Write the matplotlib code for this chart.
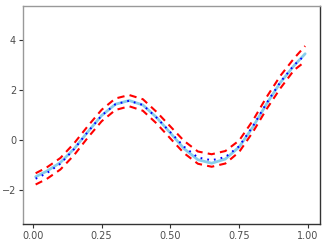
import numpy as np
import matplotlib
matplotlib.use("Agg")
import matplotlib.pyplot as plt

# values
x_vals = [0.01, 0.05, 0.10, 0.15, 0.20, 0.25, 0.30, 0.35, 0.40, 0.45, 0.50,
          0.55, 0.60, 0.65, 0.70, 0.75, 0.80, 0.85, 0.90, 0.95, 0.99]
truth = [-1.47, -1.25, -0.90, -0.35, 0.33, 0.98, 1.43, 1.58, 1.40, 0.90, 0.28,
         -0.35, -0.79, -0.93, -0.76, -0.28, 0.52, 1.45, 2.30, 2.98, 3.45]
estimate = [-1.55, -1.33, -0.95, -0.36, 0.33, 0.98, 1.43, 1.57, 1.40, 0.89, 0.31,
            -0.27, -0.70, -0.81, -0.68, -0.25, 0.55, 1.48, 2.32, 3.00, 3.40]
upper = [-1.33, -1.10, -0.72, -0.13, 0.56, 1.21, 1.66, 1.80, 1.63, 1.12, 0.54,
         -0.04, -0.46, -0.57, -0.44, -0.02, 0.78, 1.72, 2.57, 3.27, 3.76]
lower = [-1.78, -1.56, -1.18, -0.60, 0.10, 0.75, 1.20, 1.35, 1.17, 0.66, 0.06,
         -0.53, -0.95, -1.07, -0.94, -0.48, 0.32, 1.24, 2.07, 2.80, 3.14]
x_ticks = [0.0, 0.25, 0.5, 0.75, 1.0]
x_labels = ["0.00", "0.25", "0.50", "0.75", "1.00"]
y_ticks = [-2, 0, 2, 4]

fig = plt.figure(figsize=(3.27, 2.45), dpi=100)
ax = fig.add_axes([23/327, 21/245, 297/327, 218/245])

ax.plot(x_vals, truth, color="#87CEEB", lw=2.0, solid_capstyle="round")
ax.plot(x_vals, estimate, color="blue", lw=1.4, linestyle=(0, (0.9, 2.6)),
        dash_capstyle="butt")
ax.plot(x_vals, upper, color="red", lw=1.5, linestyle=(0, (3.5, 2.5)))
ax.plot(x_vals, lower, color="red", lw=1.5, linestyle=(0, (3.5, 2.5)))

ax.set_xlim(-0.036, 1.044)
ax.set_ylim(-3.36, 5.36)
ax.set_xticks(x_ticks)
ax.set_xticklabels(x_labels)
ax.set_yticks(y_ticks)

for s in ["top", "left"]:
    ax.spines[s].set_color("#999999")
for s in ["bottom", "right"]:
    ax.spines[s].set_color("#333333")
for s in ax.spines.values():
    s.set_linewidth(1.0)

ax.tick_params(axis="both", length=3, width=0.8, color="#333333",
               labelsize=7, labelcolor="#4d4d4d", pad=2)

fig.savefig("out.png", dpi=100)
